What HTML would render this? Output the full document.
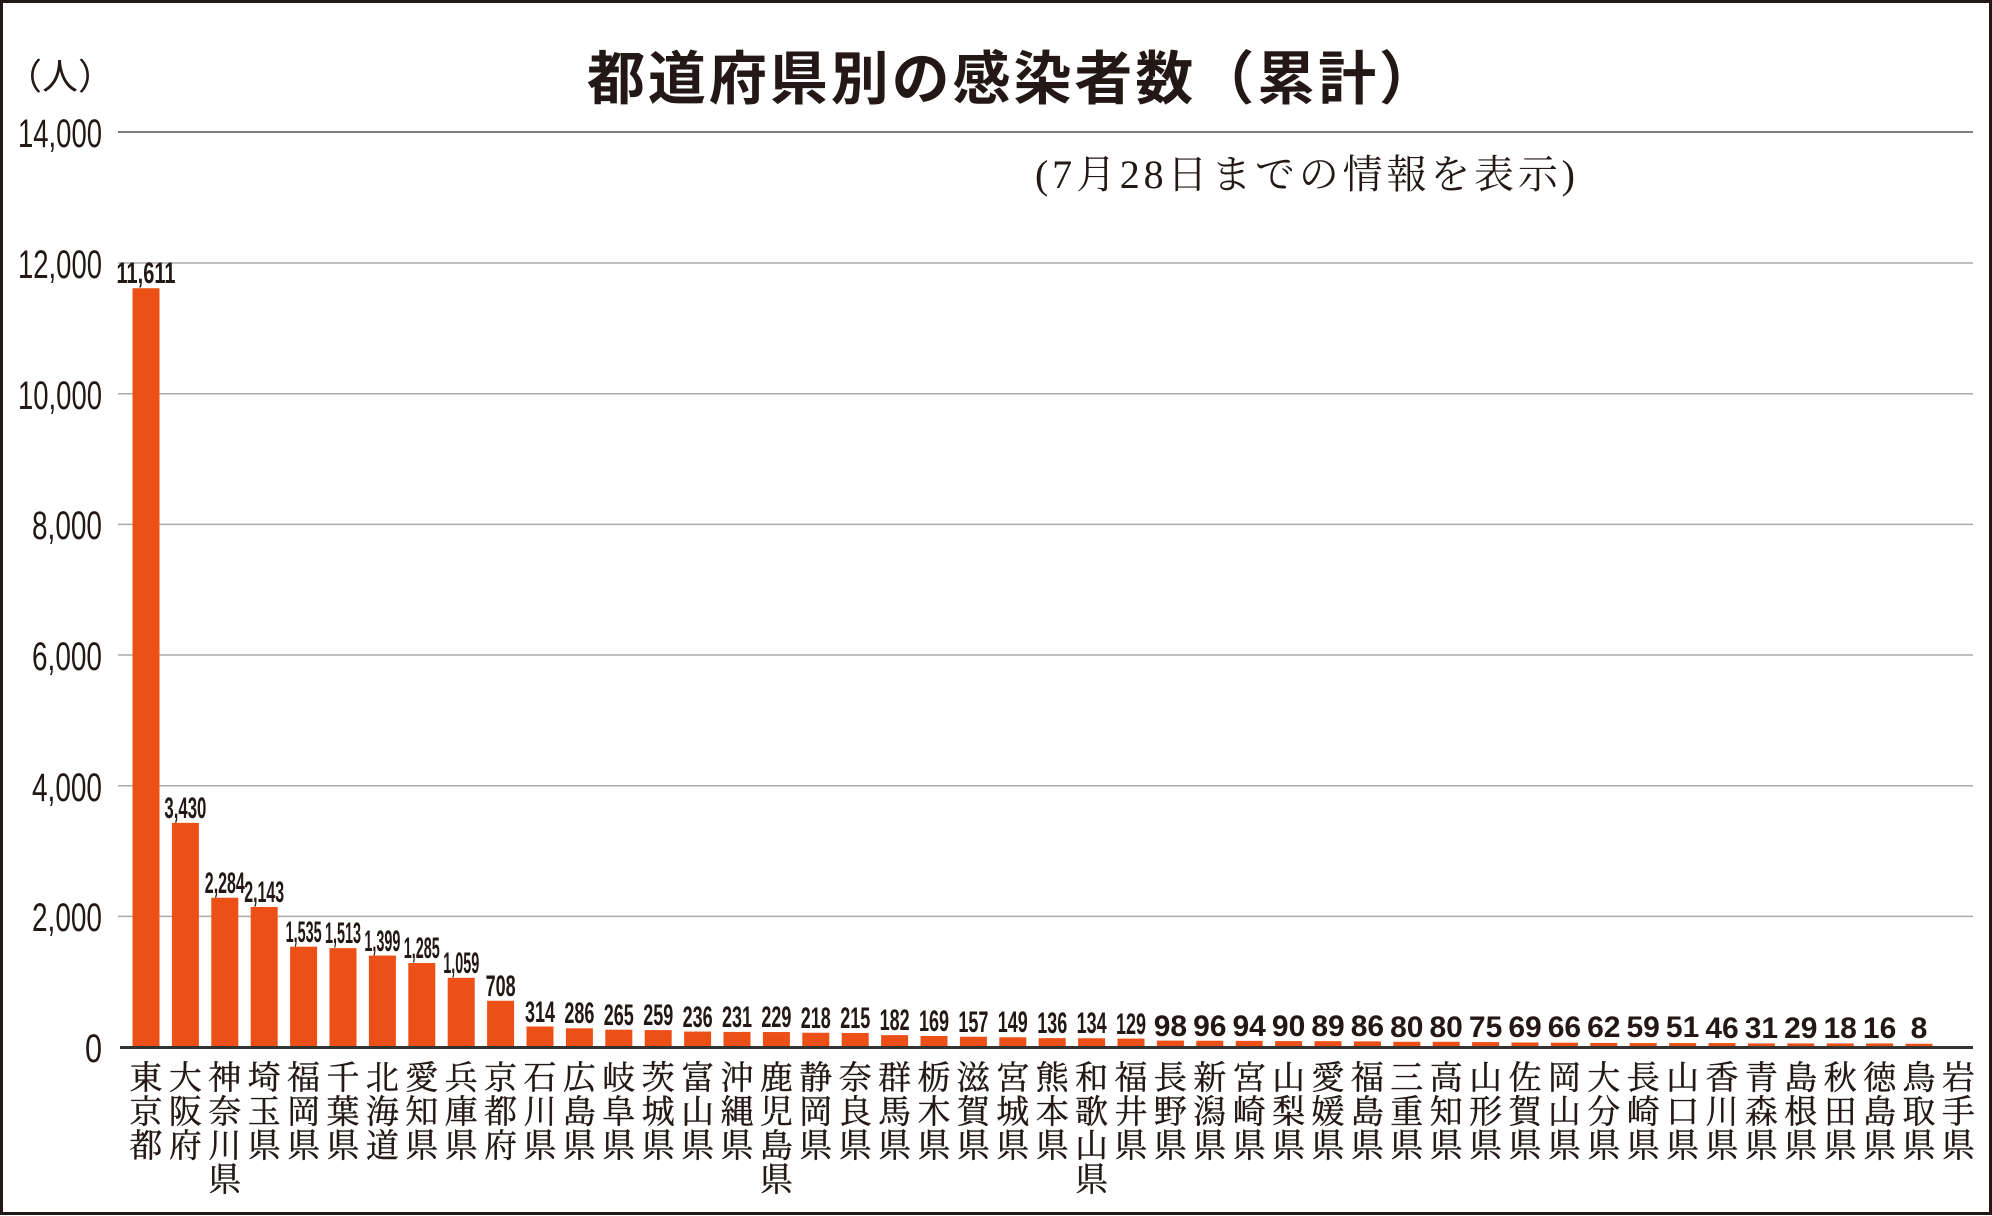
<!DOCTYPE html>
<html><head><meta charset="utf-8"><style>
html,body{margin:0;padding:0;background:#fff}
svg{display:block}
.v{font-family:"Liberation Sans",sans-serif;font-weight:bold;font-size:30px;fill:#231815;text-anchor:middle}
.t{font-family:"Liberation Sans",sans-serif;font-size:40px;fill:#231815;text-anchor:end}
.p{font-family:"Liberation Serif","Noto Serif CJK JP","Noto Serif CJK SC",serif;font-size:33px;fill:#231815;text-anchor:middle;stroke:#231815;stroke-width:0.4}
</style></head><body>
<svg width="1992" height="1216" viewBox="0 0 1992 1216" xmlns="http://www.w3.org/2000/svg">
<rect x="1.5" y="1.5" width="1989" height="1212" fill="#fff" stroke="#231815" stroke-width="3"/>
<text x="6" y="89" font-family="Liberation Sans,'Noto Sans CJK JP',sans-serif" font-size="36" fill="#231815">（人）</text>
<text x="587" y="99" font-family="Liberation Sans,'Noto Sans CJK JP',sans-serif" font-weight="bold" font-size="58" fill="#231815" textLength="850">都道府県別の感染者数（累計）</text>
<text x="1305" y="188" text-anchor="middle" font-family="Liberation Serif,'Noto Serif CJK JP',serif" font-size="40" fill="#231815" textLength="540">(7月28日までの情報を表示)</text>
<g stroke-width="1.5">
<line x1="118" x2="1973" y1="132" y2="132" stroke="#555"/>
<line x1="118" x2="1973" y1="263" y2="263" stroke="#aaa"/>
<line x1="118" x2="1973" y1="393.7" y2="393.7" stroke="#aaa"/>
<line x1="118" x2="1973" y1="524.4" y2="524.4" stroke="#aaa"/>
<line x1="118" x2="1973" y1="655" y2="655" stroke="#aaa"/>
<line x1="118" x2="1973" y1="785.7" y2="785.7" stroke="#aaa"/>
<line x1="118" x2="1973" y1="916.4" y2="916.4" stroke="#aaa"/>
</g>
<g class="t">
<text x="102" y="147" textLength="84" lengthAdjust="spacingAndGlyphs">14,000</text>
<text x="102" y="278" textLength="84" lengthAdjust="spacingAndGlyphs">12,000</text>
<text x="102" y="409" textLength="84" lengthAdjust="spacingAndGlyphs">10,000</text>
<text x="102" y="539" textLength="70" lengthAdjust="spacingAndGlyphs">8,000</text>
<text x="102" y="670" textLength="70" lengthAdjust="spacingAndGlyphs">6,000</text>
<text x="102" y="801" textLength="70" lengthAdjust="spacingAndGlyphs">4,000</text>
<text x="102" y="931" textLength="70" lengthAdjust="spacingAndGlyphs">2,000</text>
<text x="102" y="1062" textLength="17" lengthAdjust="spacingAndGlyphs">0</text>
</g>
<g fill="#ec5016" transform="translate(0,1047) scale(1,-0.06535)">
<rect x="132.5" width="27" height="11611"/><rect x="171.9" width="27" height="3430"/><rect x="211.3" width="27" height="2284"/><rect x="250.7" width="27" height="2143"/><rect x="290.1" width="27" height="1535"/><rect x="329.5" width="27" height="1513"/><rect x="368.9" width="27" height="1399"/><rect x="408.3" width="27" height="1285"/><rect x="447.7" width="27" height="1059"/><rect x="487.1" width="27" height="708"/><rect x="526.5" width="27" height="314"/><rect x="565.9" width="27" height="286"/><rect x="605.3" width="27" height="265"/><rect x="644.7" width="27" height="259"/><rect x="684.1" width="27" height="236"/><rect x="723.5" width="27" height="231"/><rect x="762.9" width="27" height="229"/><rect x="802.3" width="27" height="218"/><rect x="841.7" width="27" height="215"/><rect x="881.1" width="27" height="182"/><rect x="920.5" width="27" height="169"/><rect x="959.9" width="27" height="157"/><rect x="999.3" width="27" height="149"/><rect x="1038.7" width="27" height="136"/><rect x="1078.1" width="27" height="134"/><rect x="1117.5" width="27" height="129"/><rect x="1156.9" width="27" height="98"/><rect x="1196.3" width="27" height="96"/><rect x="1235.7" width="27" height="94"/><rect x="1275.1" width="27" height="90"/><rect x="1314.5" width="27" height="89"/><rect x="1353.9" width="27" height="86"/><rect x="1393.3" width="27" height="80"/><rect x="1432.7" width="27" height="80"/><rect x="1472.1" width="27" height="75"/><rect x="1511.5" width="27" height="69"/><rect x="1550.9" width="27" height="66"/><rect x="1590.3" width="27" height="62"/><rect x="1629.7" width="27" height="60"/><rect x="1669.1" width="27" height="60"/><rect x="1708.5" width="27" height="60"/><rect x="1747.9" width="27" height="55"/><rect x="1787.3" width="27" height="55"/><rect x="1826.7" width="27" height="55"/><rect x="1866.1" width="27" height="55"/><rect x="1905.5" width="27" height="50"/>
</g>
<line x1="120" x2="1973" y1="1047.5" y2="1047.5" stroke="#333" stroke-width="3"/>
<g class="v">
<text x="146" y="283" textLength="59" lengthAdjust="spacingAndGlyphs">11,611</text>
<text x="185.4" y="818" textLength="42" lengthAdjust="spacingAndGlyphs">3,430</text>
<text x="224.8" y="893" textLength="40" lengthAdjust="spacingAndGlyphs">2,284</text>
<text x="264.2" y="902" textLength="40" lengthAdjust="spacingAndGlyphs">2,143</text>
<text x="303.6" y="942" textLength="36" lengthAdjust="spacingAndGlyphs">1,535</text>
<text x="343" y="943" textLength="36" lengthAdjust="spacingAndGlyphs">1,513</text>
<text x="382.4" y="951" textLength="36" lengthAdjust="spacingAndGlyphs">1,399</text>
<text x="421.8" y="958" textLength="36" lengthAdjust="spacingAndGlyphs">1,285</text>
<text x="461.2" y="973" textLength="36" lengthAdjust="spacingAndGlyphs">1,059</text>
<text x="500.6" y="996" textLength="30" lengthAdjust="spacingAndGlyphs">708</text>
<text x="540" y="1022" textLength="30" lengthAdjust="spacingAndGlyphs">314</text>
<text x="579.4" y="1023" textLength="30" lengthAdjust="spacingAndGlyphs">286</text>
<text x="618.8" y="1025" textLength="30" lengthAdjust="spacingAndGlyphs">265</text>
<text x="658.2" y="1025" textLength="30" lengthAdjust="spacingAndGlyphs">259</text>
<text x="697.6" y="1027" textLength="30" lengthAdjust="spacingAndGlyphs">236</text>
<text x="737" y="1027" textLength="30" lengthAdjust="spacingAndGlyphs">231</text>
<text x="776.4" y="1027" textLength="30" lengthAdjust="spacingAndGlyphs">229</text>
<text x="815.8" y="1028" textLength="30" lengthAdjust="spacingAndGlyphs">218</text>
<text x="855.2" y="1028" textLength="30" lengthAdjust="spacingAndGlyphs">215</text>
<text x="894.6" y="1030" textLength="30" lengthAdjust="spacingAndGlyphs">182</text>
<text x="934" y="1031" textLength="30" lengthAdjust="spacingAndGlyphs">169</text>
<text x="973.4" y="1032" textLength="30" lengthAdjust="spacingAndGlyphs">157</text>
<text x="1012.8" y="1032" textLength="30" lengthAdjust="spacingAndGlyphs">149</text>
<text x="1052.2" y="1033" textLength="30" lengthAdjust="spacingAndGlyphs">136</text>
<text x="1091.6" y="1033" textLength="30" lengthAdjust="spacingAndGlyphs">134</text>
<text x="1131" y="1034" textLength="30" lengthAdjust="spacingAndGlyphs">129</text>
<text x="1170.4" y="1036">98</text><text x="1209.8" y="1036">96</text><text x="1249.2" y="1036">94</text><text x="1288.6" y="1036">90</text><text x="1328" y="1036">89</text><text x="1367.4" y="1036">86</text><text x="1406.8" y="1037">80</text><text x="1446.2" y="1037">80</text><text x="1485.6" y="1037">75</text><text x="1525" y="1037">69</text><text x="1564.4" y="1037">66</text><text x="1603.8" y="1037">62</text><text x="1643.2" y="1037">59</text><text x="1682.6" y="1037">51</text><text x="1722" y="1038">46</text><text x="1761.4" y="1038">31</text><text x="1800.8" y="1038">29</text><text x="1840.2" y="1038">18</text><text x="1879.6" y="1038">16</text><text x="1919" y="1038">8</text>
</g>
<g class="p">
<text><tspan x="146" y="1089">東</tspan><tspan x="146" y="1123">京</tspan><tspan x="146" y="1157">都</tspan></text>
<text><tspan x="185.4" y="1089">大</tspan><tspan x="185.4" y="1123">阪</tspan><tspan x="185.4" y="1157">府</tspan></text>
<text><tspan x="224.8" y="1089">神</tspan><tspan x="224.8" y="1123">奈</tspan><tspan x="224.8" y="1157">川</tspan><tspan x="224.8" y="1191">県</tspan></text>
<text><tspan x="264.2" y="1089">埼</tspan><tspan x="264.2" y="1123">玉</tspan><tspan x="264.2" y="1157">県</tspan></text>
<text><tspan x="303.6" y="1089">福</tspan><tspan x="303.6" y="1123">岡</tspan><tspan x="303.6" y="1157">県</tspan></text>
<text><tspan x="343" y="1089">千</tspan><tspan x="343" y="1123">葉</tspan><tspan x="343" y="1157">県</tspan></text>
<text><tspan x="382.4" y="1089">北</tspan><tspan x="382.4" y="1123">海</tspan><tspan x="382.4" y="1157">道</tspan></text>
<text><tspan x="421.8" y="1089">愛</tspan><tspan x="421.8" y="1123">知</tspan><tspan x="421.8" y="1157">県</tspan></text>
<text><tspan x="461.2" y="1089">兵</tspan><tspan x="461.2" y="1123">庫</tspan><tspan x="461.2" y="1157">県</tspan></text>
<text><tspan x="500.6" y="1089">京</tspan><tspan x="500.6" y="1123">都</tspan><tspan x="500.6" y="1157">府</tspan></text>
<text><tspan x="540" y="1089">石</tspan><tspan x="540" y="1123">川</tspan><tspan x="540" y="1157">県</tspan></text>
<text><tspan x="579.4" y="1089">広</tspan><tspan x="579.4" y="1123">島</tspan><tspan x="579.4" y="1157">県</tspan></text>
<text><tspan x="618.8" y="1089">岐</tspan><tspan x="618.8" y="1123">阜</tspan><tspan x="618.8" y="1157">県</tspan></text>
<text><tspan x="658.2" y="1089">茨</tspan><tspan x="658.2" y="1123">城</tspan><tspan x="658.2" y="1157">県</tspan></text>
<text><tspan x="697.6" y="1089">富</tspan><tspan x="697.6" y="1123">山</tspan><tspan x="697.6" y="1157">県</tspan></text>
<text><tspan x="737" y="1089">沖</tspan><tspan x="737" y="1123">縄</tspan><tspan x="737" y="1157">県</tspan></text>
<text><tspan x="776.4" y="1089">鹿</tspan><tspan x="776.4" y="1123">児</tspan><tspan x="776.4" y="1157">島</tspan><tspan x="776.4" y="1191">県</tspan></text>
<text><tspan x="815.8" y="1089">静</tspan><tspan x="815.8" y="1123">岡</tspan><tspan x="815.8" y="1157">県</tspan></text>
<text><tspan x="855.2" y="1089">奈</tspan><tspan x="855.2" y="1123">良</tspan><tspan x="855.2" y="1157">県</tspan></text>
<text><tspan x="894.6" y="1089">群</tspan><tspan x="894.6" y="1123">馬</tspan><tspan x="894.6" y="1157">県</tspan></text>
<text><tspan x="934" y="1089">栃</tspan><tspan x="934" y="1123">木</tspan><tspan x="934" y="1157">県</tspan></text>
<text><tspan x="973.4" y="1089">滋</tspan><tspan x="973.4" y="1123">賀</tspan><tspan x="973.4" y="1157">県</tspan></text>
<text><tspan x="1012.8" y="1089">宮</tspan><tspan x="1012.8" y="1123">城</tspan><tspan x="1012.8" y="1157">県</tspan></text>
<text><tspan x="1052.2" y="1089">熊</tspan><tspan x="1052.2" y="1123">本</tspan><tspan x="1052.2" y="1157">県</tspan></text>
<text><tspan x="1091.6" y="1089">和</tspan><tspan x="1091.6" y="1123">歌</tspan><tspan x="1091.6" y="1157">山</tspan><tspan x="1091.6" y="1191">県</tspan></text>
<text><tspan x="1131" y="1089">福</tspan><tspan x="1131" y="1123">井</tspan><tspan x="1131" y="1157">県</tspan></text>
<text><tspan x="1170.4" y="1089">長</tspan><tspan x="1170.4" y="1123">野</tspan><tspan x="1170.4" y="1157">県</tspan></text>
<text><tspan x="1209.8" y="1089">新</tspan><tspan x="1209.8" y="1123">潟</tspan><tspan x="1209.8" y="1157">県</tspan></text>
<text><tspan x="1249.2" y="1089">宮</tspan><tspan x="1249.2" y="1123">崎</tspan><tspan x="1249.2" y="1157">県</tspan></text>
<text><tspan x="1288.6" y="1089">山</tspan><tspan x="1288.6" y="1123">梨</tspan><tspan x="1288.6" y="1157">県</tspan></text>
<text><tspan x="1328" y="1089">愛</tspan><tspan x="1328" y="1123">媛</tspan><tspan x="1328" y="1157">県</tspan></text>
<text><tspan x="1367.4" y="1089">福</tspan><tspan x="1367.4" y="1123">島</tspan><tspan x="1367.4" y="1157">県</tspan></text>
<text><tspan x="1406.8" y="1089">三</tspan><tspan x="1406.8" y="1123">重</tspan><tspan x="1406.8" y="1157">県</tspan></text>
<text><tspan x="1446.2" y="1089">高</tspan><tspan x="1446.2" y="1123">知</tspan><tspan x="1446.2" y="1157">県</tspan></text>
<text><tspan x="1485.6" y="1089">山</tspan><tspan x="1485.6" y="1123">形</tspan><tspan x="1485.6" y="1157">県</tspan></text>
<text><tspan x="1525" y="1089">佐</tspan><tspan x="1525" y="1123">賀</tspan><tspan x="1525" y="1157">県</tspan></text>
<text><tspan x="1564.4" y="1089">岡</tspan><tspan x="1564.4" y="1123">山</tspan><tspan x="1564.4" y="1157">県</tspan></text>
<text><tspan x="1603.8" y="1089">大</tspan><tspan x="1603.8" y="1123">分</tspan><tspan x="1603.8" y="1157">県</tspan></text>
<text><tspan x="1643.2" y="1089">長</tspan><tspan x="1643.2" y="1123">崎</tspan><tspan x="1643.2" y="1157">県</tspan></text>
<text><tspan x="1682.6" y="1089">山</tspan><tspan x="1682.6" y="1123">口</tspan><tspan x="1682.6" y="1157">県</tspan></text>
<text><tspan x="1722" y="1089">香</tspan><tspan x="1722" y="1123">川</tspan><tspan x="1722" y="1157">県</tspan></text>
<text><tspan x="1761.4" y="1089">青</tspan><tspan x="1761.4" y="1123">森</tspan><tspan x="1761.4" y="1157">県</tspan></text>
<text><tspan x="1800.8" y="1089">島</tspan><tspan x="1800.8" y="1123">根</tspan><tspan x="1800.8" y="1157">県</tspan></text>
<text><tspan x="1840.2" y="1089">秋</tspan><tspan x="1840.2" y="1123">田</tspan><tspan x="1840.2" y="1157">県</tspan></text>
<text><tspan x="1879.6" y="1089">徳</tspan><tspan x="1879.6" y="1123">島</tspan><tspan x="1879.6" y="1157">県</tspan></text>
<text><tspan x="1919" y="1089">鳥</tspan><tspan x="1919" y="1123">取</tspan><tspan x="1919" y="1157">県</tspan></text>
<text><tspan x="1958.4" y="1089">岩</tspan><tspan x="1958.4" y="1123">手</tspan><tspan x="1958.4" y="1157">県</tspan></text>
</g>
</svg>
</body></html>
